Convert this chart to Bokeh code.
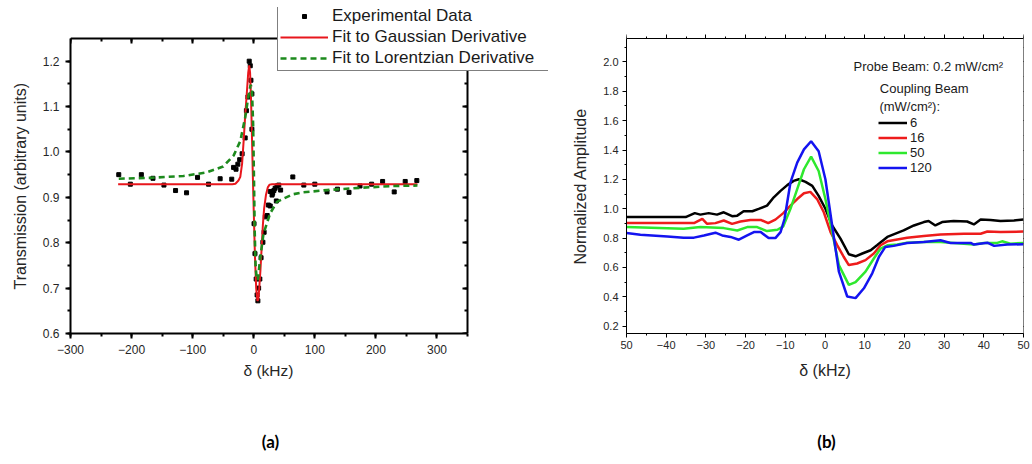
from bokeh.plotting import figure
from bokeh.layouts import row, column
from bokeh.models import (SingleIntervalTicker, LinearAxis, Legend, LegendItem,
                          Label, Range1d, CustomJSTickFormatter, PrintfTickFormatter, Title)
from bokeh.embed import file_html
from bokeh.resources import INLINE

# ---------------- (a) data ----------------
exp_x = [-221, -202, -184, -165, -147, -128, -110, -92, -74, -55, -36, -33, -29, -26, -23,
         -19, -14, -12, -9.5, -7.4, -5.7, -4.6, -3, -3, 0.5, 2.0, 4.0, 5.5, 6.8, 8.0, 10, 12,
         15, 17, 19, 22, 24, 27, 27, 30, 31, 33, 35, 37, 38, 41, 44, 64, 82, 100, 120, 137,
         156, 174, 193, 211, 230, 248, 267]
exp_y = [0.950, 0.929, 0.950, 0.942, 0.927, 0.915, 0.910, 0.944, 0.929, 0.941, 0.940, 0.966,
         0.962, 0.973, 0.983, 0.996, 1.031, 1.091, 1.121, 1.200, 1.190, 1.158, 1.128, 1.050,
         0.842, 0.776, 0.720, 0.685, 0.672, 0.700, 0.720, 0.767, 0.801, 0.823, 0.857, 0.860,
         0.883, 0.881, 0.913, 0.905, 0.909, 0.915, 0.920, 0.892, 0.925, 0.927, 0.916, 0.945,
         0.927, 0.929, 0.912, 0.918, 0.911, 0.925, 0.929, 0.935, 0.912, 0.935, 0.937]

gauss_x = [-222, -35, -30, -25, -22, -19, -16.5, -14, -11, -9, -7.4, -6, -4.5, -3, -1.5, 0,
           2, 4, 6, 7.5, 9, 11, 13, 15, 17, 20, 23, 26, 30, 268]
gauss_y = [0.929, 0.929, 0.930, 0.937, 0.945, 0.975, 1.025, 1.080, 1.136, 1.175, 1.191, 1.175,
           1.120, 1.040, 0.950, 0.870, 0.770, 0.700, 0.672, 0.675, 0.700, 0.740, 0.790, 0.840,
           0.875, 0.905, 0.922, 0.928, 0.929, 0.929]

lor_x = [-221, -170, -115, -77, -50, -33, -22, -14, -8.5, -5, -3, -1, 0.5, 1.5, 3, 5, 7, 10,
         16, 27, 38, 50, 65, 80, 120, 174, 228, 268]
lor_y = [0.941, 0.943, 0.947, 0.955, 0.968, 0.992, 1.024, 1.076, 1.125, 1.148, 1.140, 1.060,
         0.930, 0.830, 0.750, 0.718, 0.720, 0.760, 0.820, 0.865, 0.890, 0.898, 0.907, 0.911,
         0.916, 0.921, 0.925, 0.926]

# ---------------- (b) data ----------------
b6_x = [-50, -35.1, -32.8, -31.4, -29.3, -27.2, -25.5, -23.4, -22.1, -20.5, -18.3, -16.7, -14.6,
        -12.9, -11.2, -9.5, -7.9, -6.6, -4.9, -3.2, -1.6, 0.1, 1.8, 3.9, 6.0, 7.7, 9.4, 11.5,
        13.1, 15.7, 19.8, 22.4, 24.9, 26.1, 27.8, 29.5, 32.4, 35.8, 37.5, 39.2, 41.7, 44.2,
        47.6, 50]
b6_y = [0.943, 0.943, 0.970, 0.960, 0.970, 0.960, 0.976, 0.949, 0.953, 0.983, 0.983, 0.999,
        1.021, 1.078, 1.122, 1.161, 1.190, 1.201, 1.183, 1.156, 1.088, 1.000, 0.886, 0.796,
        0.690, 0.676, 0.695, 0.717, 0.751, 0.808, 0.852, 0.886, 0.909, 0.916, 0.886, 0.909,
        0.916, 0.913, 0.893, 0.926, 0.924, 0.916, 0.920, 0.926]

b16_x = [-50, -33, -30.9, -29.7, -27.6, -25.5, -23.4, -21.3, -18.8, -16.2, -14.3, -12.5, -10.5,
         -8.7, -7, -5.3, -3.7, -2.0, -0.3, 1.4, 3.1, 4.7, 6.0, 8.1, 10.2, 12.3, 14, 15.7, 18.2,
         20.7, 24.9, 29.1, 35, 39.2, 40.9, 44.2, 50]
b16_y = [0.902, 0.902, 0.931, 0.897, 0.902, 0.920, 0.897, 0.913, 0.924, 0.924, 0.902, 0.926,
         0.970, 1.021, 1.066, 1.105, 1.115, 1.066, 0.976, 0.841, 0.751, 0.673, 0.616, 0.627,
         0.650, 0.695, 0.751, 0.778, 0.791, 0.803, 0.814, 0.825, 0.830, 0.830, 0.845, 0.841,
         0.845]

b50_x = [-50, -35.6, -31.4, -25.5, -22.1, -19.6, -17.1, -14.6, -12, -10.5, -8.7, -7, -5.3, -3.5,
         -1.6, 0.1, 1.8, 3.5, 6.0, 7.7, 10.2, 12.3, 14, 15.7, 18.2, 20.7, 24.9, 29.1, 31.6, 35,
         37.5, 40, 43.4, 44.6, 46.7, 50]
b50_y = [0.875, 0.864, 0.875, 0.868, 0.852, 0.875, 0.875, 0.848, 0.857, 0.880, 0.999, 1.134,
         1.269, 1.355, 1.257, 1.066, 0.841, 0.616, 0.481, 0.500, 0.571, 0.661, 0.729, 0.751,
         0.756, 0.769, 0.774, 0.774, 0.769, 0.762, 0.756, 0.767, 0.767, 0.778, 0.762, 0.767]

b120_x = [-50, -46.5, -39.7, -35.6, -33, -30.5, -27.6, -25.9, -23.8, -21.7, -19.6, -17.9, -16.2,
          -14.2, -12.5, -11.2, -10.2, -8.7, -7, -5.3, -3.5, -1.6, 0.1, 1.8, 3.5, 5.6, 7.7, 9.8,
          11.9, 13.6, 15.2, 17.3, 20.7, 24.9, 29.1, 31.6, 36.7, 37.5, 40.9, 42.6, 45.9, 50]
b120_y = [0.835, 0.823, 0.811, 0.803, 0.803, 0.818, 0.837, 0.818, 0.808, 0.789, 0.818, 0.841,
          0.841, 0.800, 0.800, 0.841, 0.930, 1.179, 1.314, 1.404, 1.460, 1.392, 1.201, 0.886,
          0.571, 0.402, 0.391, 0.458, 0.560, 0.673, 0.740, 0.747, 0.767, 0.774, 0.785, 0.767,
          0.767, 0.756, 0.769, 0.747, 0.756, 0.758]

FONT = "Liberation Sans"
TXT = "#262626"
blank = CustomJSTickFormatter(code="return ''")


def style_axis(ax, tin, tout, mtin, mtout, lw, label_size, standoff):
    ax.major_tick_in = tin
    ax.major_tick_out = tout
    ax.minor_tick_in = mtin
    ax.minor_tick_out = mtout
    ax.axis_line_width = lw
    ax.major_tick_line_width = lw
    ax.minor_tick_line_width = lw
    ax.axis_line_color = "black"
    ax.major_tick_line_color = "black"
    ax.minor_tick_line_color = "black"
    ax.major_label_text_font = FONT
    ax.major_label_text_font_size = label_size
    ax.major_label_text_color = TXT
    ax.major_label_standoff = standoff
    ax.axis_label_text_font = FONT
    ax.axis_label_text_font_style = "normal"
    ax.axis_label_text_color = TXT


def side_title(text, size, align, offset, valign, standoff):
    return Title(text=text, align=align, offset=offset, vertical_align=valign,
                 standoff=standoff, text_font=FONT, text_font_style="normal",
                 text_font_size=size, text_color=TXT)


# Both frames span the same rows (y 7..333 on the page); each visible plot box is
# drawn by bounded axes inside its frame.

# ---------------- figure (a) ----------------
XA = (-300, 350)
YA = (0.6, 1.25)
p1 = figure(width=560, height=430, x_range=Range1d(-300, 482.6), y_range=Range1d(0.6, 1.3183),
            output_backend="svg", toolbar_location=None,
            min_border_left=70, min_border_right=12, min_border_top=7, min_border_bottom=97)
p1.grid.visible = False
p1.outline_line_color = None

xt1 = SingleIntervalTicker(interval=100, num_minor_ticks=2)
yt1 = SingleIntervalTicker(interval=0.1, num_minor_ticks=2)
p1.xaxis.ticker = xt1
p1.yaxis.ticker = yt1
p1.xaxis.bounds = XA
p1.yaxis.bounds = YA
p1.yaxis.formatter = PrintfTickFormatter(format="%.1f")
style_axis(p1.xaxis[0], 0, 5, 0, 3, 2, "12px", 6)
style_axis(p1.yaxis[0], 0, 5, 0, 3, 2, "12px", 6)

top1 = LinearAxis(ticker=xt1, formatter=blank, bounds=XA, fixed_location=YA[1])
style_axis(top1, 5, 0, 3, 0, 2, "1px", 0)
right1 = LinearAxis(ticker=yt1, formatter=blank, bounds=YA, fixed_location=XA[1])
style_axis(right1, 5, 0, 3, 0, 2, "1px", 0)
p1.add_layout(top1, "above")
p1.add_layout(right1, "right")

p1.add_layout(side_title("δ (kHz)", "15.5px", "left", 173, "top", 10), "below")
p1.add_layout(side_title("Transmission (arbitrary units)", "16px", "left", 44, "top", 18), "left")

r_exp = p1.scatter(exp_x, exp_y, marker="square", size=4, color="black")
r_gau = p1.line(gauss_x, gauss_y, line_color="#e8161c", line_width=2)
r_lor = p1.line(lor_x, lor_y, line_color="#1d8a1d", line_width=2.6, line_dash="6 4")

leg1 = Legend(items=[LegendItem(label="Experimental Data", renderers=[r_exp]),
                     LegendItem(label="Fit to Gaussian Derivative", renderers=[r_gau]),
                     LegendItem(label="Fit to Lorentzian Derivative", renderers=[r_lor])],
              location=(207, 262), padding=2, spacing=1, margin=0,
              glyph_width=48, glyph_height=10, label_height=19, label_width=215,
              label_standoff=4, label_text_font=FONT, label_text_font_size="17px",
              label_text_color="#1a1a1a",
              border_line_color="black", border_line_width=1,
              background_fill_color="white", background_fill_alpha=1)
p1.add_layout(leg1, "center")

# ---------------- figure (b) ----------------
XB = (-50, 50)
YB = (0.15, 2.158)
p2 = figure(width=470, height=430, x_range=Range1d(-50, 50), y_range=Range1d(0.15, 2.371),
            output_backend="svg", toolbar_location=None,
            min_border_left=66, min_border_right=7, min_border_top=7, min_border_bottom=97)
p2.grid.visible = False
p2.outline_line_color = None

xt2 = SingleIntervalTicker(interval=10, num_minor_ticks=2)
yt2 = SingleIntervalTicker(interval=0.2, num_minor_ticks=2)
p2.xaxis.ticker = xt2
p2.yaxis.ticker = yt2
p2.xaxis.bounds = XB
p2.yaxis.bounds = YB
p2.yaxis.formatter = PrintfTickFormatter(format="%.1f")
style_axis(p2.xaxis[0], 0, 4, 0, 2, 1, "11px", 3)
style_axis(p2.yaxis[0], 0, 4, 0, 2, 1, "11px", 4)
p2.xaxis.major_label_overrides = {-50: "50"}
p2.xaxis.axis_label = "δ (kHz)"
p2.xaxis.axis_label_text_font_size = "16px"
p2.xaxis.axis_label_standoff = 10

top2 = LinearAxis(ticker=xt2, formatter=blank, bounds=XB, fixed_location=YB[1])
style_axis(top2, 0, 4, 0, 2, 1, "1px", 0)
right2 = LinearAxis(ticker=yt2, formatter=blank, bounds=YB, fixed_location=XB[1])
style_axis(right2, 0, 4, 0, 2, 1, "1px", 0)
p2.add_layout(top2, "above")
p2.add_layout(right2, "right")
p2.add_layout(side_title("Normalized Amplitude", "16px", "left", 69, "top", 20), "left")

r6 = p2.line(b6_x, b6_y, line_color="black", line_width=2.5)
r16 = p2.line(b16_x, b16_y, line_color="#ee1c1c", line_width=2.5)
r50 = p2.line(b50_x, b50_y, line_color="#2ee82e", line_width=2.5)
r120 = p2.line(b120_x, b120_y, line_color="#1414f0", line_width=2.5)

leg2 = Legend(items=[LegendItem(label="6", renderers=[r6]),
                     LegendItem(label="16", renderers=[r16]),
                     LegendItem(label="50", renderers=[r50]),
                     LegendItem(label="120", renderers=[r120])],
              location=(252, 158), padding=0, spacing=0, margin=0,
              glyph_width=29, glyph_height=15, label_height=15,
              label_standoff=3, label_text_font=FONT, label_text_font_size="13px",
              label_text_color="#1a1a1a",
              border_line_color=None, background_fill_alpha=0)
p2.add_layout(leg2, "center")

for txt, lx, ly in [("Probe Beam: 0.2 mW/cm²", 7.2, 1.966),
                    ("Coupling Beam", 13.8, 1.816),
                    ("(mW/cm²):", 13.7, 1.694)]:
    p2.add_layout(Label(x=lx, y=ly, text=txt, text_font=FONT, text_font_size="13px",
                        text_align="left", text_baseline="middle", text_color="#1a1a1a"))

# ---------------- panel captions ----------------
cap = figure(width=1030, height=30, x_range=Range1d(0, 1030), y_range=Range1d(0, 30),
             output_backend="svg", toolbar_location=None, x_axis_location=None,
             y_axis_location=None, min_border=0)
cap.outline_line_color = None
cap.grid.visible = False
for txt, cx in [("(a)", 270), ("(b)", 826)]:
    cap.add_layout(Label(x=cx, y=19, text=txt, text_font="Lato", text_font_style="bold",
                         text_font_size="17px", text_align="center", text_baseline="middle",
                         text_color="black"))

layout = column(row(p1, p2, spacing=0), cap, spacing=0)
open("out.html", "w").write(file_html(layout, INLINE))
